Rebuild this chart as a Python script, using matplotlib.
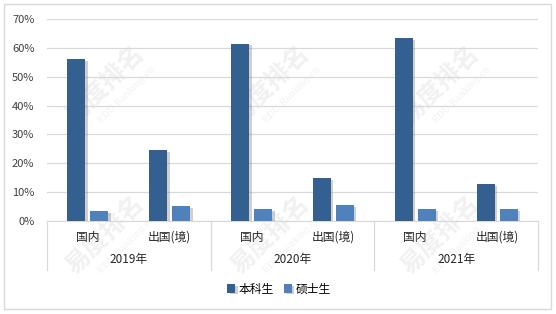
import matplotlib
matplotlib.use("Agg")
import matplotlib.pyplot as plt
import matplotlib.patheffects as pe
from matplotlib.patches import Rectangle
import numpy as np

plt.rcParams['font.family'] = ['Noto Sans CJK SC', 'DejaVu Sans']

years = ['2019年', '2020年', '2021年']
destinations = ['国内', '出国(境)']
undergrad = [56.0, 24.6, 61.4, 14.9, 63.4, 12.8]
master = [3.5, 5.2, 4.2, 5.5, 4.2, 4.2]
series_names = ['本科生', '硕士生']
colors = ['#335F91', '#4F81BD']

W, H = 556, 314
fig = plt.figure(figsize=(W / 100, H / 100), dpi=100)
ax = fig.add_axes([47 / W, (H - 221) / H, (538 - 47) / W, (221 - 19) / H])
ax.set_zorder(2)

# outer frame
fig.patches.append(Rectangle((4 / W, 5 / H), 547 / W, 305 / H, transform=fig.transFigure,
                             fill=False, edgecolor='#d9d9d9', linewidth=1))

# faint watermark behind the plot
for wx, wy in [(105, 85), (105, 235), (270, 85), (270, 235), (440, 85), (440, 235)]:
    fig.text(wx / W, 1 - wy / H, '易度排名', fontsize=18, color='#f1f1f1', rotation=45,
             ha='center', va='center', fontweight='bold', zorder=0)
    fig.text((wx + 22) / W, 1 - (wy + 10) / H, 'EDU Ranking.cn', fontsize=6.5, color='#f1f1f1',
             rotation=45, ha='center', va='center', family='DejaVu Serif', zorder=0)

x = np.arange(len(undergrad))
bw = 0.22
gap = 0.06
shadow = [pe.SimplePatchShadow(offset=(1.8, -1.2), shadow_rgbFace='#666666', alpha=0.3), pe.Normal()]
b1 = ax.bar(x - (bw + gap) / 2, undergrad, bw, color=colors[0], label=series_names[0], zorder=3)
b2 = ax.bar(x + (bw + gap) / 2, master, bw, color=colors[1], label=series_names[1], zorder=3)
for b in list(b1) + list(b2):
    b.set_path_effects(shadow)

ax.set_ylim(0, 70)
ax.set_xlim(-0.5, len(undergrad) - 0.5)
ax.set_yticks(range(0, 71, 10))
ax.set_yticklabels([f'{v}%' for v in range(0, 71, 10)], fontsize=8, color='#404040')
ax.yaxis.grid(True, color='#d9d9d9', linewidth=0.9, zorder=0)
ax.tick_params(axis='y', length=0, pad=9)
ax.set_xticks([])
ax.patch.set_alpha(0)
for s in ['left', 'right', 'top']:
    ax.spines[s].set_visible(False)
ax.spines['bottom'].set_color('#d9d9d9')

# two-level category axis
for i in x:
    ax.text(i, -16 / 202 * 70, destinations[i % 2], ha='center', va='center',
            fontsize=8.5, color='#262626', clip_on=False)
for j, yr in enumerate(years):
    ax.text(2 * j + 0.5, -38 / 202 * 70, yr, ha='center', va='center',
            fontsize=8.5, color='#262626', clip_on=False)
for bx in [-0.5, 1.5, 3.5, 5.5]:
    ax.plot([bx, bx], [0, -49 / 202 * 70], color='#d9d9d9', linewidth=0.9, clip_on=False)

fig.legend(handles=[b1, b2], labels=series_names, loc='center', bbox_to_anchor=(279 / W, 1 - 289 / H),
           ncol=2, frameon=False, fontsize=8.5, handlelength=0.7, handleheight=0.7,
           handletextpad=0.3, columnspacing=0.8)

fig.savefig('out.png', dpi=100)
